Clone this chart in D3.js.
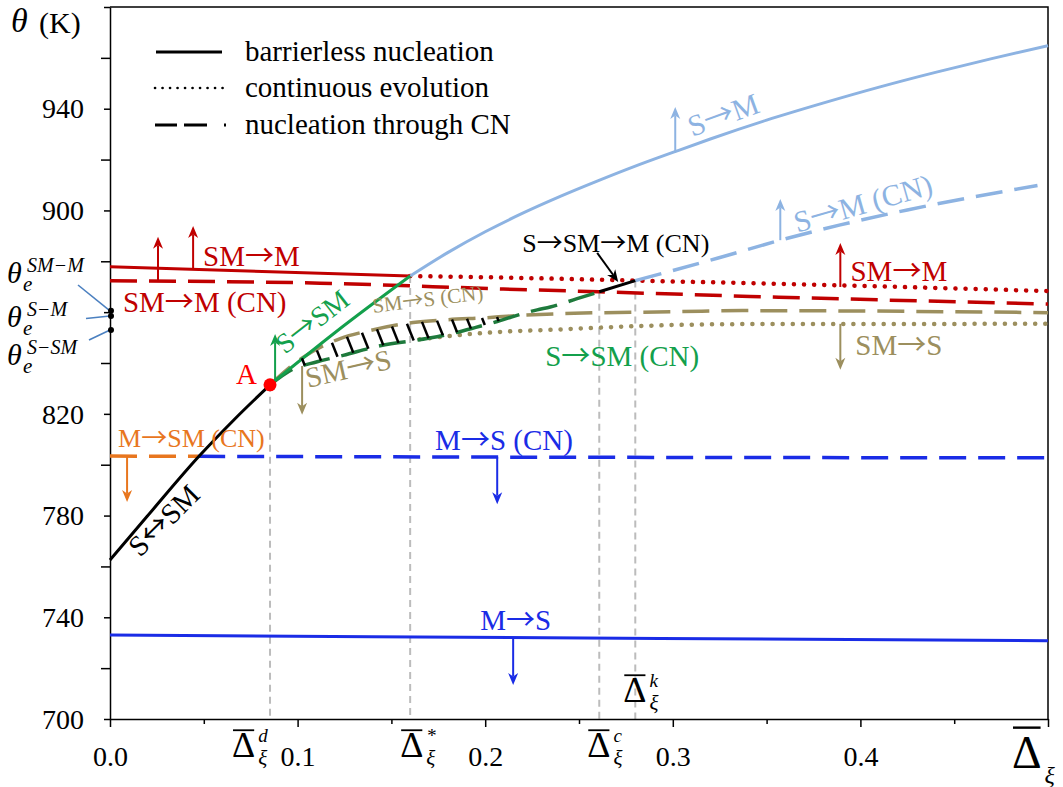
<!DOCTYPE html>
<html>
<head>
<meta charset="utf-8">
<script src="https://cdn.jsdelivr.net/npm/d3@7"></script>
<style>
  body { margin: 0; background: #fff; }
  svg { display: block; }
</style>
</head>
<body>
<svg id="chart" width="1063" height="787"></svg>
<script>
// ---------- data: transformation temperatures θ (K) vs. normalized Δξ ----------
const xTickValues = [0, 0.1, 0.2, 0.3, 0.4];
const xTickLabels = ["0.0", "0.1", "0.2", "0.3", "0.4"];
const yTickValues = [700, 740, 780, 820, 900, 940];
const yTickLabels = ["700", "740", "780", "820", "900", "940"];

// [Δξ, θ] pairs for each transformation curve
const sSmBarrierless = [[0, 762.5], [0.0197, 779.6], [0.0473, 803.2], [0.066, 817.6], [0.0853, 831.4]];
const sToSm          = [[0.0853, 831.4], [0.12, 852.0], [0.16, 874.2]];
const sToM           = [[0.16, 874.2], [0.18, 883.4], [0.2, 891.6], [0.22, 898.9], [0.24, 905.5], [0.26, 911.6],
                        [0.28, 917.4], [0.3, 922.8], [0.32, 928.1], [0.35, 935.5], [0.38, 942.2], [0.41, 948.5],
                        [0.44, 954.3], [0.47, 959.7], [0.5, 964.8]];
const sToMCN         = [[0.28, 872.4], [0.3237, 881.2], [0.3573, 888.3], [0.3893, 894.3], [0.425, 900.2], [0.4944, 909.8]];
const smToM          = [[0, 877.9], [0.112, 875.3], [0.16, 874.2]];
const smToMCont      = [[0.16, 874.2], [0.2096, 873.6], [0.28, 872.4], [0.3413, 871.4], [0.5, 868.3]];
const smToMCN        = [[0, 872.3], [0.112, 871.4], [0.2096, 869.1], [0.2608, 868.0], [0.3413, 866.2], [0.5, 863.2]];
const smToSCN        = [[0.0853, 831.4], [0.095, 837.8], [0.1029, 842.2], [0.1227, 849.6], [0.1387, 852.8],
                        [0.1616, 855.9], [0.1797, 857.0], [0.2027, 857.9], [0.2117, 858.4], [0.2363, 859.3],
                        [0.304, 860.2], [0.3376, 860.6], [0.5, 859.8]];
const smToSCont      = [[0.165, 849.3], [0.1973, 851.7], [0.2096, 852.3], [0.233, 853.0], [0.304, 855.0], [0.34, 855.3], [0.5, 855.4]];
const sToSmCN        = [[0.0853, 831.4], [0.0976, 837.6], [0.11, 840.4], [0.1243, 843.0], [0.144, 846.8], [0.1696, 849.7],
                        [0.1829, 851.7], [0.195, 854.0], [0.2064, 856.3], [0.2133, 857.9], [0.2277, 860.9],
                        [0.2347, 862.0], [0.249, 865.3], [0.2608, 868.0]];
const sToSmToMCN     = [[0.2608, 868.0], [0.28, 872.4]];
const mToSmCN        = [[0, 803.4], [0.047, 803.3]];
const mToSCN         = [[0.047, 803.3], [0.2, 803.0], [0.5, 802.7]];
const mToS           = [[0, 733.0], [0.2933, 731.7], [0.5, 730.8]];

const pointA = [0.0853, 831.4];
// characteristic Δξ values and the θ where each guide line starts
const deltaMarks = [
  { sup: "d", delta: 0.0853, theta: 831.4 },
  { sup: "*", delta: 0.16,   theta: 874.2 },
  { sup: "c", delta: 0.2608, theta: 868.0 },
  { sup: "k", delta: 0.28,   theta: 872.4 }
];
// equilibrium temperatures marked on the θ axis
const thetaE = [
  { sup: "SM\u2212M", theta: 860.5 },
  { sup: "S\u2212M",  theta: 858.5 },
  { sup: "S\u2212SM", theta: 853.0 }
];
const legendLabels = ["barrierless nucleation", "continuous evolution", "nucleation through CN"];

// ---------- pick installed faces ----------
const probe = document.createElement("canvas").getContext("2d");
function installed(f) {
  const s = "mmwwiil0123 SM\u2192M \u03b8\u0394\u03be abc";
  for (const base of ["monospace", "sans-serif"]) {
    probe.font = `40px ${base}`; const w0 = probe.measureText(s).width;
    probe.font = `40px "${f}", ${base}`;
    if (Math.abs(probe.measureText(s).width - w0) > 0.5) return true;
  }
  return false;
}
const SERIF = ["Liberation Serif", "Tinos", "Times New Roman", "Noto Serif", "DejaVu Serif"].find(installed) || "serif";
const ARROW_FONT = ["Noto Sans CJK JP", "Noto Sans CJK SC", "DejaVu Sans"].find(installed) || SERIF;

// ---------- styling ----------
const C = {
  black: "#000000", red: "#c00000", light: "#8db3e2", green: "#13a04c", dgreen: "#1e7a3c",
  olive: "#9c8f5e", blue: "#1a2ce6", orange: "#e8761e", grey: "#bcbcbc", pointer: "#4b80c0"
};
const STYLE = {
  solid:  { w: 3,   dash: null },
  dashed: { w: 3.5, dash: "27,12" },
  dotted: { w: 4.5, dash: "0.1,10" }
};

const curves = [
  { data: mToS,           color: C.blue,   style: "solid" },
  { data: mToSCN,         color: C.blue,   style: "dashed" },
  { data: mToSmCN,        color: C.orange, style: "dashed" },
  { data: smToMCN,        color: C.red,    style: "dashed" },
  { data: smToMCont,      color: C.red,    style: "dotted" },
  { data: smToM,          color: C.red,    style: "solid" },
  { data: smToSCont,      color: C.olive,  style: "dotted" },
  { data: smToSCN,        color: C.olive,  style: "dashed" },
  { data: sToSmCN,        color: C.dgreen, style: "dashed" },
  { data: sToM,           color: C.light,  style: "solid" },
  { data: sToMCN,         color: C.light,  style: "dashed" },
  { data: sToSm,          color: C.green,  style: "solid" },
  { data: sToSmToMCN,     color: C.black,  style: "solid" },
  { data: sSmBarrierless, color: C.black,  style: "solid" }
];

// ---------- scales ----------
const svg = d3.select("#chart").style("font-family", `"${SERIF}", serif`);
const x = d3.scaleLinear().domain([0, 0.5]).range([110, 1048]);
const y = d3.scaleLinear().domain([700, 980]).range([719, 7]);

const smooth = d3.line().x(d => x(d[0])).y(d => y(d[1])).curve(d3.curveMonotoneX);
const straight = d3.line().x(d => x(d[0])).y(d => y(d[1]));

// linear lookup along a curve's points
function at(series, d) {
  for (let i = 0; i < series.length - 1; i++) {
    const [x0, y0] = series[i], [x1, y1] = series[i + 1];
    if (d >= x0 && d <= x1) return y0 + (y1 - y0) * (d - x0) / (x1 - x0);
  }
  return d < series[0][0] ? series[0][1] : series[series.length - 1][1];
}

// ---------- guide lines at characteristic Δξ ----------
svg.append("g").selectAll("line").data(deltaMarks).join("line")
  .attr("x1", d => x(d.delta)).attr("x2", d => x(d.delta))
  .attr("y1", d => y(d.theta)).attr("y2", y(700))
  .attr("stroke", C.grey).attr("stroke-width", 2).attr("stroke-dasharray", "7,5");

// ---------- axes and frame ----------
const yAll = d3.range(700, 981, 20);
const yAxis = svg.append("g").attr("transform", `translate(${x(0)},0)`)
  .call(d3.axisLeft(y).tickValues(yAll).tickSizeOuter(0)
    .tickFormat(v => { const i = yTickValues.indexOf(v); return i >= 0 ? yTickLabels[i] : ""; }));
yAxis.attr("font-family", null).attr("font-size", null);
yAxis.selectAll(".tick line").attr("x2", v => (v % 40 === 20 ? -6 : -9)).attr("stroke-width", 1.5);
yAxis.selectAll(".tick text").attr("x", -26).attr("font-size", 28).attr("dy", "0.33em").attr("fill", "#000");
yAxis.select(".domain").attr("stroke-width", 1.5);

const xAll = d3.range(0, 0.5001, 0.05);
const xAxis = svg.append("g").attr("transform", `translate(0,${y(700)})`)
  .call(d3.axisBottom(x).tickValues(xAll).tickSizeOuter(0)
    .tickFormat(v => { const i = xTickValues.findIndex(t => Math.abs(t - v) < 1e-9); return i >= 0 ? xTickLabels[i] : ""; }));
xAxis.attr("font-family", null).attr("font-size", null);
xAxis.selectAll(".tick line").attr("y2", (v, i) => (i % 2 ? 5 : 8)).attr("stroke-width", 1.5);
xAxis.selectAll(".tick text").attr("y", 47).attr("dy", 0).attr("font-size", 28).attr("fill", "#000");
xAxis.select(".domain").attr("stroke-width", 1.5);

svg.append("path")
  .attr("d", `M${x(0)},${y(980)}H${x(0.5)}V${y(700)}`)
  .attr("fill", "none").attr("stroke", "#000").attr("stroke-width", 1.5);

// ---------- curves ----------
const gCurves = svg.append("g").attr("fill", "none");
curves.forEach(c => {
  const s = STYLE[c.style];
  gCurves.append("path").datum(c.data)
    .attr("d", c.data.length > 2 ? smooth(c.data) : straight(c.data))
    .attr("stroke", c.color).attr("stroke-width", s.w)
    .attr("stroke-dasharray", s.dash)
    .attr("stroke-linecap", c.style === "dotted" ? "round" : "butt");
});

// ---------- hatching between SM→S (CN) and S→SM (CN) ----------
const hatch = [];
for (let d = pointA[0] + 0.009; d < 0.215; d += 0.008) {
  const yu = y(at(smToSCN, d));
  let dl = d, yl = y(at(sToSmCN, d));
  for (let k = 0; k < 3; k++) { dl = d + 0.4 * (yl - yu) / (x(1) - x(0)); yl = y(at(sToSmCN, dl)); }
  if (yl - yu > 4) hatch.push([x(d), yu, x(dl), yl]);
}
svg.append("g").selectAll("line").data(hatch).join("line")
  .attr("x1", d => d[0]).attr("y1", d => d[1]).attr("x2", d => d[2]).attr("y2", d => d[3])
  .attr("stroke", "#000").attr("stroke-width", 2.5);

// ---------- point A ----------
svg.append("circle").attr("cx", x(pointA[0])).attr("cy", y(pointA[1])).attr("r", 6.5).attr("fill", "#ff0000");

// ---------- direction arrows ----------
const arrows = [
  { from: [0.0256, 872.0], to: [0.0256, 889.6], color: C.red },
  { from: [0.0443, 876.9], to: [0.0443, 893.9], color: C.red },
  { from: [0.088, 833.0],  to: [0.088, 851.4],  color: C.green },
  { from: [0.1024, 838.8], to: [0.1024, 819.6], color: C.olive },
  { from: [0.0091, 803.4], to: [0.0091, 785.3], color: C.orange },
  { from: [0.2064, 803.0], to: [0.2064, 784.5], color: C.blue },
  { from: [0.2149, 731.6], to: [0.2149, 713.4], color: C.blue },
  { from: [0.3013, 922.8], to: [0.3013, 940.7], color: C.light },
  { from: [0.3573, 888.3], to: [0.3573, 904.5], color: C.light },
  { from: [0.3893, 869.9], to: [0.3893, 887.2], color: C.red },
  { from: [0.3893, 855.4], to: [0.3893, 837.3], color: C.olive },
  { from: [0.2597, 883.3], to: [0.2709, 871.9], color: C.black }
];
const gArrows = svg.append("g");
arrows.forEach(a => {
  const x1 = x(a.from[0]), y1 = y(a.from[1]), x2 = x(a.to[0]), y2 = y(a.to[1]);
  const len = Math.hypot(x2 - x1, y2 - y1), ux = (x2 - x1) / len, uy = (y2 - y1) / len;
  const L = 12, w = 5, n = 3.5;
  const bx = x2 - ux * (L - n), by = y2 - uy * (L - n);
  gArrows.append("line").attr("x1", x1).attr("y1", y1).attr("x2", bx).attr("y2", by)
    .attr("stroke", a.color).attr("stroke-width", 2);
  gArrows.append("path")
    .attr("d", `M${x2},${y2}L${x2 - ux * L - uy * w},${y2 - uy * L + ux * w}L${bx},${by}L${x2 - ux * L + uy * w},${y2 - uy * L - ux * w}Z`)
    .attr("fill", a.color);
});

// ---------- curve labels (arrow glyphs set in a face with long thin arrows) ----------
const labels = [
  { t: "SM\u2192M",          at: [0.0496, 878.2], color: C.red,    fs: 29 },
  { t: "SM\u2192M (CN)",     at: [0.0069, 860.1], color: C.red,    fs: 29 },
  { t: "A",                  at: [0.0672, 831.8], color: "#ff0000", fs: 29 },
  { t: "S\u2192SM",          at: [0.0933, 843.2], color: C.green,  fs: 28, rot: -38 },
  { t: "SM\u2192S",          at: [0.1056, 830.2], color: C.olive,  fs: 29, rot: -13 },
  { t: "SM\u2192S (CN)",     at: [0.1403, 859.7], color: C.olive,  fs: 21, rot: -7 },
  { t: "S\u2192SM (CN)",     at: [0.232, 838.8],  color: C.green,  fs: 29 },
  { t: "S\u2192SM\u2192M (CN)", at: [0.2197, 883.7], color: C.black, fs: 26 },
  { t: "S\u2192M",           at: [0.3104, 928.9], color: C.light,  fs: 30, rot: -20 },
  { t: "S\u2192M (CN)",      at: [0.3664, 891.2], color: C.light,  fs: 30, rot: -16 },
  { t: "SM\u2192M",          at: [0.3947, 872.1], color: C.red,    fs: 29 },
  { t: "SM\u2192S",          at: [0.3973, 843.2], color: C.olive,  fs: 29 },
  { t: "M\u2192SM (CN)",     at: [0.0043, 807.0], color: C.orange, fs: 26 },
  { t: "M\u2192S (CN)",      at: [0.1733, 805.8], color: C.blue,   fs: 29 },
  { t: "M\u2192S",           at: [0.1973, 735.0], color: C.blue,   fs: 29 },
  { t: "S\u2194SM",          at: [0.016, 763.3],  color: C.black,  fs: 29, rot: -45 }
];
svg.append("g").selectAll("text").data(labels).join("text")
  .attr("transform", d => `translate(${x(d.at[0])},${y(d.at[1])}) rotate(${d.rot || 0})`)
  .attr("fill", d => d.color).attr("font-size", d => d.fs)
  .each(function (d) {
    const t = d3.select(this);
    d.t.split(/([\u2192\u2194])/).filter(s => s.length).forEach(part => {
      const sp = t.append("tspan").text(part);
      if (/[\u2192\u2194]/.test(part)) sp.style("font-family", `"${ARROW_FONT}"`);
    });
  });

// ---------- θe markers on the θ axis ----------
const gTheta = svg.append("g").attr("font-style", "italic");
const thetaRows = [283, 327, 365];          // label baselines
const pointerFrom = [[78, 285], [86, 318.5], [89, 340]];
thetaE.forEach((e, i) => {
  const b = thetaRows[i];
  gTheta.append("line").attr("x1", pointerFrom[i][0]).attr("y1", pointerFrom[i][1])
    .attr("x2", x(0)).attr("y2", y(e.theta)).attr("stroke", C.pointer).attr("stroke-width", 1.6);
  const t = gTheta.append("text").attr("x", 7).attr("y", b);
  t.append("tspan").attr("font-size", 30).text("\u03b8");
  t.append("tspan").attr("x", 23).attr("y", b + 8).attr("font-size", 21).text("e");
  t.append("tspan").attr("x", 27).attr("y", b - 11).attr("font-size", 20).text(e.sup);
});
gTheta.selectAll("circle").data(thetaE).join("circle")
  .attr("cx", x(0) + 1).attr("cy", d => y(d.theta)).attr("r", 3).attr("fill", "#000");

// ---------- Δξ markers ----------
function deltaLabel(g, x0, base, fs, sup, subFs, supDy, subDy, barGap) {
  const t = g.append("text").attr("x", x0).attr("y", base);
  const big = t.append("tspan").attr("font-size", fs).text("\u0394");
  const w = big.node().getComputedTextLength();
  const barY = base - 0.66 * fs - barGap;
  g.append("line").attr("x1", x0 + 1).attr("x2", x0 + w - 1).attr("y1", barY).attr("y2", barY)
    .attr("stroke", "#000").attr("stroke-width", fs > 40 ? 2.4 : 1.8);
  if (sup) t.append("tspan").attr("x", x0 + w + 3).attr("y", base + supDy).attr("font-size", 19)
    .attr("font-style", "italic").text(sup);
  t.append("tspan").attr("x", x0 + w + 3).attr("y", base + subDy).attr("font-size", subFs)
    .attr("font-style", "italic").text("\u03be");
}
const gDelta = svg.append("g");
const deltaOffsets = { d: [-38, 757], "*": [-10, 757], c: [-12, 757], k: [-12, 702] };
deltaMarks.forEach(m => {
  const [dx, base] = deltaOffsets[m.sup];
  deltaLabel(gDelta, x(m.delta) + dx, base, 36, m.sup, 21, -15, 8, 3);
});
// axis titles
deltaLabel(gDelta, 1012, 768, 46, null, 24, 0, 15, 10);
const yTitle = svg.append("text").attr("x", 11).attr("y", 32);
yTitle.append("tspan").attr("font-size", 34).attr("font-style", "italic").text("\u03b8");
yTitle.append("tspan").attr("x", 39).attr("y", 33).attr("font-size", 30).text("(K)");

// ---------- legend ----------
const gLeg = svg.append("g");
const legRows = [52, 88, 125];
gLeg.append("line").attr("x1", 156).attr("x2", 222).attr("y1", legRows[0]).attr("y2", legRows[0])
  .attr("stroke", "#000").attr("stroke-width", 3);
gLeg.append("line").attr("x1", 155).attr("x2", 229).attr("y1", legRows[1]).attr("y2", legRows[1])
  .attr("stroke", "#000").attr("stroke-width", 2.6).attr("stroke-dasharray", "0.1,7.4").attr("stroke-linecap", "round");
gLeg.append("line").attr("x1", 155).attr("x2", 229).attr("y1", legRows[2]).attr("y2", legRows[2])
  .attr("stroke", "#000").attr("stroke-width", 3).attr("stroke-dasharray", "22,7,23,17,2,20");
gLeg.selectAll("text").data(legendLabels).join("text")
  .attr("x", 245).attr("y", (d, i) => legRows[i] + 9).attr("font-size", 29).text(d => d);
</script>
</body>
</html>
